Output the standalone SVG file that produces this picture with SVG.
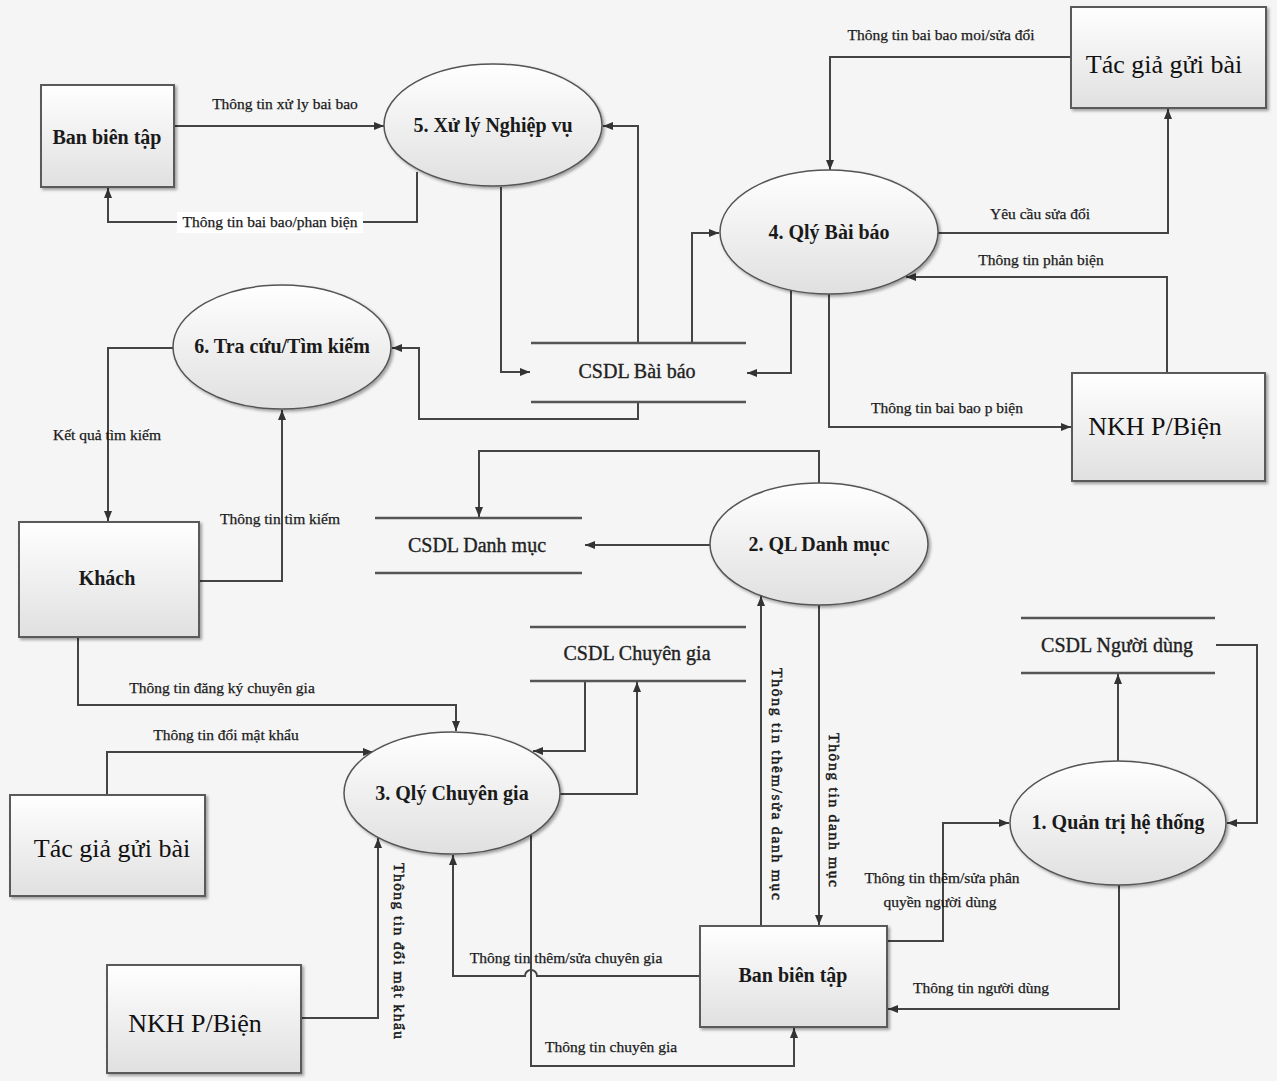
<svg xmlns="http://www.w3.org/2000/svg" width="1277" height="1081" viewBox="0 0 1277 1081">
  <defs>
    <linearGradient id="fillGrad" x1="0" y1="0" x2="0" y2="1">
      <stop offset="0" stop-color="#ffffff"/>
      <stop offset="1" stop-color="#e0e0e0"/>
    </linearGradient>
    <filter id="shadow" x="-10%" y="-10%" width="125%" height="130%">
      <feDropShadow dx="2" dy="2" stdDeviation="1.5" flood-color="#000" flood-opacity="0.35"/>
    </filter>
    <marker id="arrow" viewBox="0 0 10 8" refX="10" refY="4" markerWidth="10" markerHeight="8" markerUnits="userSpaceOnUse" orient="auto">
      <path d="M0,0 L10,4 L0,8 z" fill="#333"/>
    </marker>
    <style>
      .box { fill: url(#fillGrad); stroke: #5a5a5a; stroke-width: 2; filter: url(#shadow); }
      .proc { fill: url(#fillGrad); stroke: #555; stroke-width: 1.5; filter: url(#shadow); }
      .store { stroke: #555; stroke-width: 2.5; }
      .flow { fill: none; stroke: #444; stroke-width: 2; marker-end: url(#arrow); }
      .bold { font-family: "Liberation Serif", "Times New Roman", serif; font-weight: bold; font-size: 20px; fill: #1a1a1a; text-anchor: middle; }
      .big { font-family: "Liberation Serif", "Times New Roman", serif; font-size: 26px; fill: #111; text-anchor: middle; }
      .ds { font-family: "Liberation Serif", "Times New Roman", serif; font-size: 20px; fill: #222; stroke: #222; stroke-width: 0.35; text-anchor: middle; }
      .lbl { font-family: "Liberation Serif", "Times New Roman", serif; font-size: 15.5px; fill: #1a1a1a; stroke: #1a1a1a; stroke-width: 0.25; text-anchor: middle; }
      .vlbl { stroke-width: 0.5; }
    </style>
  </defs>

  <rect x="0" y="0" width="1277" height="1081" fill="#f5f5f5"/>

  <!-- data flows -->
  <g id="connectors">
    <path class="flow" d="M175,126 H384"/>
    <path class="flow" d="M417,172 V222 H108 V188"/>
    <path class="flow" d="M501,187 V372 H530"/>
    <path class="flow" d="M638,343 V126 H603"/>
    <path class="flow" d="M692,343 V233 H719"/>
    <path class="flow" d="M791,290 V373 H747"/>
    <path class="flow" d="M638,402 V419 H419 V348 H392"/>
    <path class="flow" d="M1071,57 H830 V170"/>
    <path class="flow" d="M938,233 H1168 V109"/>
    <path class="flow" d="M1167,373 V277 H906"/>
    <path class="flow" d="M829,294 V427 H1071"/>
    <path class="flow" d="M173,348 H108 V521"/>
    <path class="flow" d="M199,581 H282 V410"/>
    <path class="flow" d="M710,545 H585"/>
    <path class="flow" d="M819,484 V451 H479 V517"/>
    <path class="flow" d="M761,925 V596"/>
    <path class="flow" d="M819,605 V925"/>
    <path class="flow" d="M887,941 H943 V823 H1009"/>
    <path class="flow" d="M1119,885 V1009 H888"/>
    <path class="flow" d="M1118,761 V674"/>
    <path class="flow" d="M1216,645 H1257 V823 H1227"/>
    <path class="flow" d="M78,637 V705 H456 V731"/>
    <path class="flow" d="M107,795 V752 H373"/>
    <path class="flow" d="M585,681 V751 H533"/>
    <path class="flow" d="M560,794 H637 V682"/>
    <path class="flow" d="M301,1018 H378 V838"/>
    <path class="flow" d="M700,976 H537 A6,6 0 0 0 525,976 H453 V855"/>
    <path class="flow" d="M531,835 V1066 H794 V1028"/>

    <!-- flow labels -->
    <text class="lbl" x="285" y="109">Thông tin xử ly bai bao</text>
    <rect x="177" y="212" width="186" height="21" fill="#ffffff"/>
    <text class="lbl" x="270" y="227">Thông tin bai bao/phan biện</text>
    <text class="lbl" x="941" y="40">Thông tin bai bao moi/sửa đổi</text>
    <text class="lbl" x="1040" y="219">Yêu cầu sửa đổi</text>
    <text class="lbl" x="1041" y="265">Thông tin phản biện</text>
    <text class="lbl" x="947" y="413">Thông tin bai bao p biện</text>
    <text class="lbl" x="107" y="440">Kết quả tìm kiếm</text>
    <text class="lbl" x="280" y="524">Thông tin tìm kiếm</text>
    <text class="lbl" x="222" y="693">Thông tin đăng ký chuyên gia</text>
    <text class="lbl" x="226" y="740">Thông tin đổi mật khẩu</text>
    <text class="lbl" x="942" y="883">Thông tin thêm/sửa phân</text>
    <text class="lbl" x="940" y="907">quyền người dùng</text>
    <text class="lbl" x="981" y="993">Thông tin người dùng</text>
    <text class="lbl" x="566" y="963">Thông tin thêm/sửa chuyên gia</text>
    <text class="lbl" x="611" y="1052">Thông tin chuyên gia</text>
    <text class="lbl vlbl" transform="translate(772,784) rotate(90)" textLength="232" lengthAdjust="spacing">Thông tin thêm/sửa danh mục</text>
    <text class="lbl vlbl" transform="translate(829,810) rotate(90)" textLength="154" lengthAdjust="spacing">Thông tin danh mục</text>
    <text class="lbl vlbl" transform="translate(394,951) rotate(90)" textLength="176" lengthAdjust="spacing">Thông tin đổi mật khẩu</text>
  </g>

  <!-- external entities -->
  <g id="ban-bien-tap-top">
    <rect class="box" x="41" y="85" width="133" height="102"/>
    <text class="bold" x="107" y="144">Ban biên tập</text>
  </g>
  <g id="tac-gia-top">
    <rect class="box" x="1071" y="7" width="195" height="101"/>
    <text class="big" x="1164" y="73" font-size="27">Tác giả gửi bài</text>
  </g>
  <g id="nkh-right">
    <rect class="box" x="1072" y="373" width="193" height="108"/>
    <text class="big" x="1155" y="435">NKH P/Biện</text>
  </g>
  <g id="khach">
    <rect class="box" x="19" y="522" width="180" height="115"/>
    <text class="bold" x="107" y="585">Khách</text>
  </g>
  <g id="tac-gia-bottom">
    <rect class="box" x="10" y="795" width="195" height="101"/>
    <text class="big" x="112" y="857" font-size="27">Tác giả gửi bài</text>
  </g>
  <g id="nkh-bottom">
    <rect class="box" x="107" y="965" width="194" height="108"/>
    <text class="big" x="195" y="1032">NKH P/Biện</text>
  </g>
  <g id="ban-bien-tap-bottom">
    <rect class="box" x="700" y="926" width="187" height="101"/>
    <text class="bold" x="793" y="982">Ban biên tập</text>
  </g>

  <!-- processes -->
  <g id="p5">
    <ellipse class="proc" cx="493" cy="125" rx="109" ry="61"/>
    <text class="bold" x="493" y="132">5. Xử lý Nghiệp vụ</text>
  </g>
  <g id="p4">
    <ellipse class="proc" cx="829" cy="232" rx="109" ry="62"/>
    <text class="bold" x="829" y="239">4. Qlý Bài báo</text>
  </g>
  <g id="p6">
    <ellipse class="proc" cx="282" cy="347" rx="109" ry="62"/>
    <text class="bold" x="282" y="353">6. Tra cứu/Tìm kiếm</text>
  </g>
  <g id="p2">
    <ellipse class="proc" cx="819" cy="544" rx="109" ry="61"/>
    <text class="bold" x="819" y="551">2. QL Danh mục</text>
  </g>
  <g id="p3">
    <ellipse class="proc" cx="452" cy="793" rx="108" ry="61"/>
    <text class="bold" x="452" y="800">3. Qlý Chuyên gia</text>
  </g>
  <g id="p1">
    <ellipse class="proc" cx="1118" cy="823" rx="108" ry="62"/>
    <text class="bold" x="1118" y="829">1. Quản trị hệ thống</text>
  </g>

  <!-- data stores -->
  <g id="csdl-bai-bao">
    <line class="store" x1="531" y1="343" x2="746" y2="343"/>
    <line class="store" x1="531" y1="402" x2="746" y2="402"/>
    <text class="ds" x="637" y="378">CSDL Bài báo</text>
  </g>
  <g id="csdl-danh-muc">
    <line class="store" x1="375" y1="518" x2="582" y2="518"/>
    <line class="store" x1="375" y1="573" x2="582" y2="573"/>
    <text class="ds" x="477" y="552">CSDL Danh mục</text>
  </g>
  <g id="csdl-chuyen-gia">
    <line class="store" x1="530" y1="627" x2="746" y2="627"/>
    <line class="store" x1="530" y1="681" x2="746" y2="681"/>
    <text class="ds" x="637" y="660">CSDL Chuyên gia</text>
  </g>
  <g id="csdl-nguoi-dung">
    <line class="store" x1="1021" y1="618" x2="1215" y2="618"/>
    <line class="store" x1="1021" y1="673" x2="1215" y2="673"/>
    <text class="ds" x="1117" y="652">CSDL Người dùng</text>
  </g>
</svg>
